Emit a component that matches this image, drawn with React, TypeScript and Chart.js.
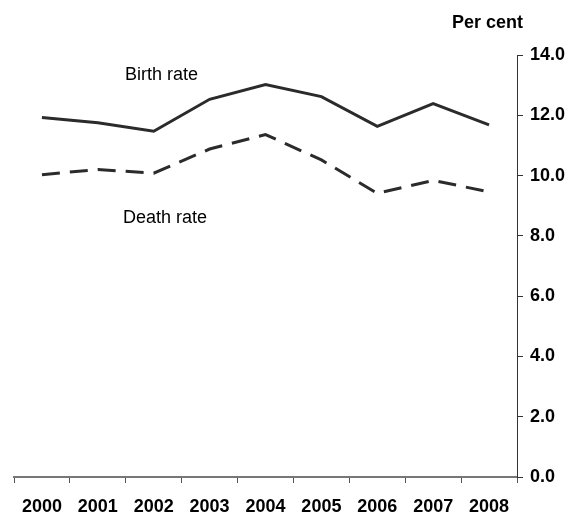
import React, { useEffect, useRef } from "react";
import { Chart, registerables } from "chart.js";

Chart.register(...registerables);

const years = ["2000", "2001", "2002", "2003", "2004", "2005", "2006", "2007", "2008"];
const birthRate = [11.93, 11.75, 11.47, 12.53, 13.02, 12.62, 11.63, 12.39, 11.68];
const deathRate = [10.03, 10.2, 10.08, 10.88, 11.36, 10.52, 9.41, 9.84, 9.46];
const yTicks = [0, 2, 4, 6, 8, 10, 12, 14];

const FONT = '"Liberation Sans", Arial, Helvetica, sans-serif';

const textPlugin = {
  id: "annotTexts",
  afterDraw(chart: any) {
    const ctx = chart.ctx;
    ctx.save();
    ctx.fillStyle = "#000";
    ctx.textBaseline = "alphabetic";
    ctx.textAlign = "left";
    ctx.font = `bold 18px ${FONT}`;
    ctx.fillText("Per cent", 452, 28);
    ctx.font = `18px ${FONT}`;
    ctx.fillText("Birth rate", 125, 80);
    ctx.fillText("Death rate", 123, 223);
    ctx.restore();
  },
};

export default function App() {
  const ref = useRef<HTMLCanvasElement | null>(null);
  useEffect(() => {
    if (!ref.current) return;
    const chart = new Chart(ref.current, {
      type: "line",
      data: {
        labels: years,
        datasets: [
          {
            label: "Birth rate",
            data: birthRate,
            borderColor: "#2b2b2b",
            borderWidth: 3,
            pointRadius: 0,
            tension: 0,
            fill: false,
          },
          {
            label: "Death rate",
            data: deathRate,
            borderColor: "#2b2b2b",
            borderWidth: 3,
            borderDash: [18, 10],
            pointRadius: 0,
            tension: 0,
            fill: false,
          },
        ],
      },
      options: {
        responsive: false,
        animation: false,
        devicePixelRatio: 1,
        layout: { padding: { left: 14, top: 55, right: 0, bottom: 0 } },
        plugins: {
          legend: { display: false },
          tooltip: { enabled: false },
          title: { display: false },
        },
        scales: {
          x: {
            type: "category",
            offset: true,
            grid: {
              offset: true,
              drawOnChartArea: false,
              drawTicks: true,
              tickLength: 6,
              color: "#555",
              lineWidth: 1,
            },
            border: { display: true, color: "#777", width: 2 },
            ticks: {
              color: "#000",
              font: { family: FONT, size: 18, weight: "bold" },
              padding: 13,
              maxRotation: 0,
              autoSkip: false,
            },
            afterFit(scale: any) {
              scale.height = 41;
            },
          },
          y: {
            position: "right",
            min: 0,
            max: 14,
            afterBuildTicks(scale: any) {
              scale.ticks = yTicks.map((v) => ({ value: v }));
            },
            grid: {
              drawOnChartArea: false,
              drawTicks: true,
              tickLength: 6,
              color: "#333",
              lineWidth: 1,
            },
            border: { display: true, color: "#333", width: 1 },
            ticks: {
              color: "#000",
              font: { family: FONT, size: 18, weight: "bold" },
              padding: 7,
              callback: (v: any) => Number(v).toFixed(1),
            },
            afterFit(scale: any) {
              scale.width = 57;
            },
          },
        },
      },
      plugins: [textPlugin],
    });
    return () => chart.destroy();
  }, []);

  return (
    <div style={{ position: "absolute", left: 0, top: 0, width: 574, height: 518, background: "#fff" }}>
      <canvas ref={ref} width={574} height={518} style={{ display: "block" }} />
    </div>
  );
}
